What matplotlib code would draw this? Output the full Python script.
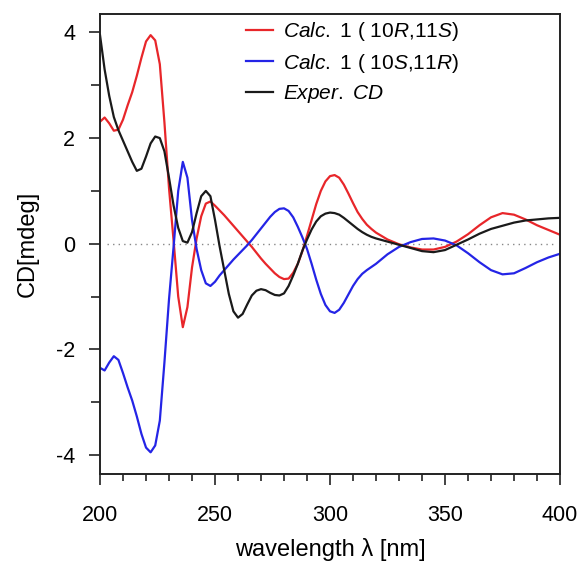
import matplotlib
matplotlib.use('Agg')
import matplotlib.pyplot as plt
from matplotlib.ticker import MultipleLocator

plt.rcParams['font.family'] = ['Liberation Sans', 'DejaVu Sans']
plt.rcParams['mathtext.fontset'] = 'custom'
plt.rcParams['mathtext.rm'] = 'Liberation Sans'
plt.rcParams['mathtext.it'] = 'Liberation Sans:italic'
plt.rcParams['axes.unicode_minus'] = False

# wavelength grid (nm)
wavelength = list(range(200, 322, 2)) + list(range(325, 405, 5))

calc_10R11S = [
    2.31, 2.39, 2.28, 2.14, 2.16, 2.35, 2.62, 2.87, 3.18, 3.52, 3.83, 3.95,
    3.85, 3.40, 2.30, 1.05, 0.05, -1.00, -1.58, -1.20, -0.45, 0.10, 0.52, 0.76,
    0.80, 0.72, 0.63, 0.54, 0.44, 0.34, 0.24, 0.14, 0.04, -0.06, -0.17, -0.28,
    -0.38, -0.47, -0.56, -0.63, -0.67, -0.66, -0.55, -0.38, -0.14, 0.15, 0.45,
    0.75, 1.00, 1.18, 1.28, 1.30, 1.25, 1.12, 0.95, 0.77, 0.60, 0.47, 0.36,
    0.28, 0.21,
    0.08, -0.01, -0.07, -0.11, -0.11, -0.06, 0.04, 0.18, 0.35, 0.50, 0.58,
    0.55, 0.46, 0.35, 0.26, 0.17,
]

calc_10S11R = [
    -2.35, -2.40, -2.25, -2.13, -2.20, -2.45, -2.72, -2.97, -3.27, -3.60,
    -3.86, -3.95, -3.82, -3.35, -2.25, -1.05, -0.05, 1.00, 1.55, 1.25, 0.45,
    -0.10, -0.50, -0.75, -0.80, -0.72, -0.60, -0.50, -0.40, -0.30, -0.21,
    -0.12, -0.03, 0.07, 0.18, 0.29, 0.40, 0.51, 0.60, 0.66, 0.67, 0.62, 0.50,
    0.32, 0.12, -0.10, -0.38, -0.68, -0.95, -1.16, -1.28, -1.31, -1.25, -1.12,
    -0.96, -0.80, -0.67, -0.57, -0.50, -0.44, -0.38,
    -0.20, -0.06, 0.03, 0.09, 0.10, 0.06, -0.03, -0.18, -0.35, -0.50, -0.58,
    -0.56, -0.46, -0.35, -0.26, -0.19,
]

exper_cd = [
    3.95, 3.30, 2.80, 2.40, 2.15, 1.95, 1.75, 1.55, 1.38, 1.42, 1.65, 1.90,
    2.03, 2.00, 1.75, 1.25, 0.72, 0.30, 0.05, 0.02, 0.22, 0.58, 0.90, 1.00,
    0.90, 0.45, -0.05, -0.50, -0.95, -1.28, -1.40, -1.33, -1.15, -0.98, -0.89,
    -0.86, -0.88, -0.93, -0.97, -0.98, -0.94, -0.80, -0.60, -0.38, -0.13,
    0.08, 0.27, 0.42, 0.52, 0.57, 0.59, 0.58, 0.55, 0.49, 0.42, 0.35, 0.28,
    0.22, 0.17, 0.13, 0.10,
    0.04, -0.02, -0.08, -0.14, -0.16, -0.12, -0.02, 0.08, 0.19, 0.28, 0.34,
    0.40, 0.44, 0.46, 0.48, 0.49,
]

labels = [
    r'$\it{Calc.}$' + ' 1 ( ' + r'$\it{10R{,}11S}$' + ')',
    r'$\it{Calc.}$' + ' 1 ( ' + r'$\it{10S{,}11R}$' + ')',
    r'$\it{Exper.}$' + ' ' + r'$\it{CD}$',
]
colors = ['#e8262a', '#2424e6', '#1a1a1a']

fig = plt.figure(figsize=(5.88, 5.69), dpi=100)
ax = fig.add_axes([0.1701, 0.1670, 0.7823, 0.8084])

ax.axhline(0, xmin=0.015, xmax=0.985, color='#888888', linestyle=(0, (1, 3)), linewidth=1.0)
for ys, c, lab in zip([calc_10R11S, calc_10S11R, exper_cd], colors, labels):
    ax.plot(wavelength, ys, color=c, lw=1.6, label=lab)

ax.set_xlim(200, 400)
ax.set_ylim(-4.36, 4.35)
ax.xaxis.set_major_locator(MultipleLocator(50))
ax.xaxis.set_minor_locator(MultipleLocator(10))
ax.yaxis.set_major_locator(MultipleLocator(2))
ax.yaxis.set_minor_locator(MultipleLocator(1))
ax.tick_params(which='both', direction='out', width=1.2, color='#222222',
               labelsize=15.5)
ax.tick_params(axis='y', which='major', length=8, pad=10)
ax.tick_params(axis='y', which='minor', length=6.5)
ax.tick_params(axis='x', which='major', length=8, pad=14)
ax.tick_params(axis='x', which='minor', length=5)
for s in ax.spines.values():
    s.set_linewidth(1.4)
    s.set_color('#222222')

ax.set_xlabel('wavelength λ [nm]', fontsize=17, labelpad=9)
ax.set_ylabel('CD[mdeg]', fontsize=17, labelpad=12)

ax.legend(loc='upper left', frameon=False, fontsize=15, handlelength=1.3,
          handletextpad=0.5, labelspacing=0.42, borderpad=0, borderaxespad=0,
          bbox_to_anchor=(0.317, 0.987))

fig.savefig('out.png', dpi=100)
